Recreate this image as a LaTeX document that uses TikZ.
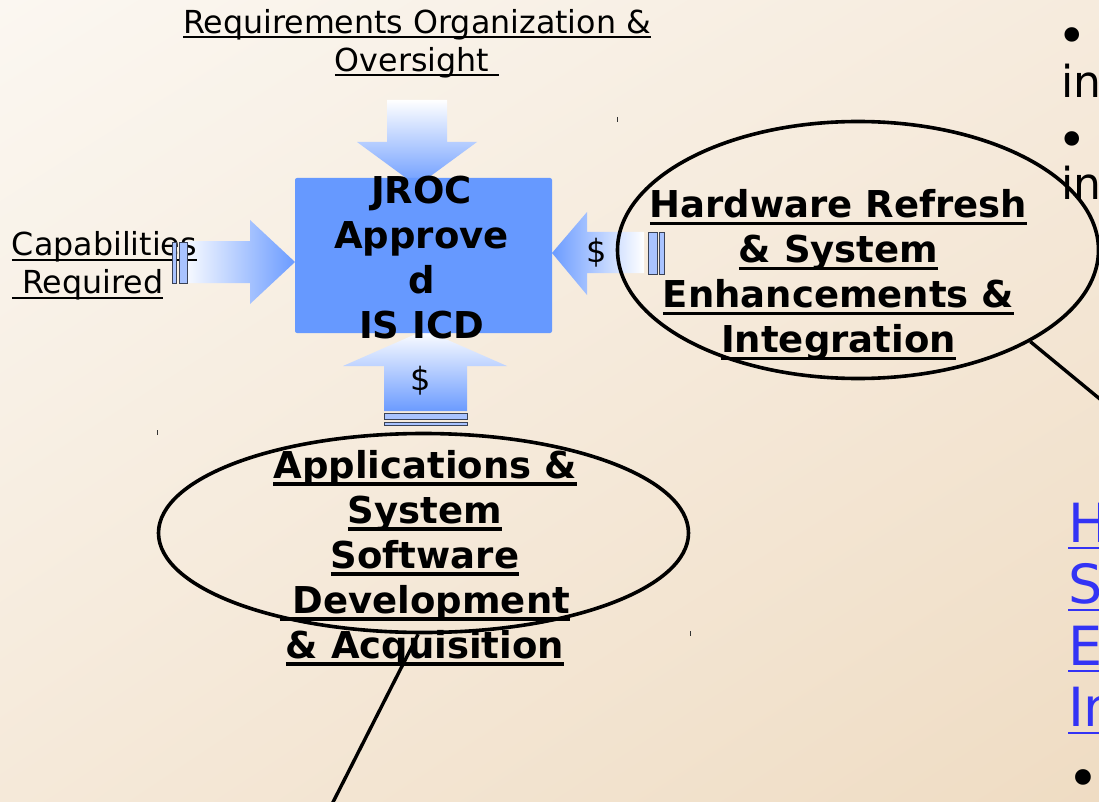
\documentclass[tikz,border=0pt]{standalone}
\usepackage{fontspec}
\setmainfont{DejaVu Sans}
\usetikzlibrary{shapes.geometric,shadings}
\definecolor{boxblue}{HTML}{6699FF}
\definecolor{arrblue}{HTML}{6B9BFF}
\definecolor{barblue}{HTML}{A9C3FF}
\definecolor{bardark}{HTML}{3A4256}
\definecolor{linkblue}{HTML}{3333F5}
\definecolor{bgA}{HTML}{FBF7F1}
\definecolor{bgB}{HTML}{F6EBDD}
\definecolor{bgC}{HTML}{F5E9D9}
\definecolor{bgD}{HTML}{EFDCC3}
\newcommand\ulbold[1]{\setbox0\hbox{#1}\leavevmode\rlap{\rule[-7.3pt]{\wd0}{3.2pt}}\box0}
\newcommand\ulreg[1]{\setbox0\hbox{#1}\leavevmode\rlap{\rule[-5pt]{\wd0}{2pt}}\box0}
\newcommand\ullink[1]{\setbox0\hbox{#1}\leavevmode\rlap{\rule[-7pt]{\wd0}{2.2pt}}\box0}
\begin{document}
\begin{tikzpicture}[x=1pt,y=-1pt,
  boldtxt/.style={inner sep=0pt, outer sep=0pt, align=center, font=\fontsize{37}{45}\selectfont\bfseries},
  regtxt/.style={inner sep=0pt, outer sep=0pt, font=\fontsize{31.7}{38}\selectfont},
  bar/.style={fill=barblue, draw=bardark, line width=0.8pt},
  oval/.style={ellipse, draw=black, line width=3.6pt, inner sep=0pt, fill=none},
  tick/.style={draw=black!80, line width=1pt},
  conn/.style={draw=black, line width=3.4pt}]
\useasboundingbox (0,0) rectangle (1099,802);
\clip (0,0) rectangle (1099,802);
\shade[upper left=bgA, upper right=bgB, lower left=bgC, lower right=bgD] (0,0) rectangle (1099,802);

% block arrows
\shade[top color=white, bottom color=arrblue] (387,100) -- (447,100) -- (447,142) -- (477,142) -- (417,186) -- (357,142) -- (387,142) -- cycle;
\shade[left color=white, right color=arrblue] (180,241) -- (250,241) -- (250,220) -- (295,262) -- (250,304) -- (250,283) -- (180,283) -- cycle;
\shade[left color=arrblue, right color=white] (644,232) -- (587,232) -- (587,212) -- (552,253) -- (587,295) -- (587,273) -- (644,273) -- cycle;
\shade[top color=white, bottom color=arrblue] (384,411) -- (467,411) -- (467,366) -- (507,366) -- (425,330) -- (343,366) -- (384,366) -- cycle;

% box
\node[fill=boxblue, rounded corners=2pt, minimum width=257pt, minimum height=155pt, inner sep=0pt] (box) at (423.5,255.5) {};

% ellipses
\node[oval, minimum width=481pt, minimum height=257pt] (hw) at (858,250) {};
\node[oval, minimum width=530pt, minimum height=199pt] (asw) at (423.5,533) {};

% connectors
\coordinate (e1) at (1112,409);
\coordinate (e2) at (328,812);
\draw[conn] (hw.-28) -- (e1);
\draw[conn] (asw.-93) -- (e2);

% small ticks
\draw[tick] (617,117) -- (617,122);
\draw[tick] (157,430) -- (157,435);
\draw[tick] (690,631) -- (690,636);

% texts
\node[regtxt, align=center] (req) at (417,43.3) {\ulreg{Requirements Organization \&}\\\ulreg{Oversight }};
\node[regtxt, align=left, anchor=west] (cap) at (12,265.8) {\ulreg{Capabilities}\\\ulreg{ Required}};
\node[boldtxt] (jroc) at (421.5,258) {JROC\\Approve\\d\\IS ICD};
\node[boldtxt] (hwt) at (838.5,275.3) {\ulbold{Hardware Refresh}\\\ulbold{\& System}\\\ulbold{Enhancements \&}\\\ulbold{Integration}};
\node[boldtxt] (aswt) at (425,558) {\ulbold{Applications \&}\\\ulbold{System}\\\ulbold{Software}\\\ulbold{ Development}\\\ulbold{\& Acquisition}};
\node[regtxt, font=\fontsize{32}{38}\selectfont] (d1) at (597,253) {\$};
\node[regtxt, font=\fontsize{32}{38}\selectfont] (d2) at (421,381) {\$};

% bars
\draw[bar] (172,242) rectangle (176,283);
\draw[bar] (179,242) rectangle (187,283);
\draw[bar] (648,232) rectangle (657,274);
\draw[bar] (659,232) rectangle (664,274);
\draw[bar] (384,413) rectangle (467,419);
\draw[bar] (384,422) rectangle (467,425);

% right-edge text fragments
\node[regtxt, font=\fontsize{50}{56}\selectfont] (b1) at (1072,41) {•};
\node[regtxt, font=\fontsize{44}{51}\selectfont, anchor=base west] (in1) at (1061,98) {in};
\node[regtxt, font=\fontsize{50}{56}\selectfont] (b2) at (1072,145) {•};
\node[regtxt, font=\fontsize{44}{51}\selectfont, anchor=base west] (in2) at (1061,200) {in};
\node[regtxt, align=left, anchor=north west, text=linkblue, font=\fontsize{54}{61.5}\selectfont] (link) at (1068,503) {\ullink{H}\\\ullink{S}\\\ullink{E}\\\ullink{In}};
\node[regtxt, font=\fontsize{54}{61.5}\selectfont] (b3) at (1083,784) {•};
\end{tikzpicture}
\end{document}
